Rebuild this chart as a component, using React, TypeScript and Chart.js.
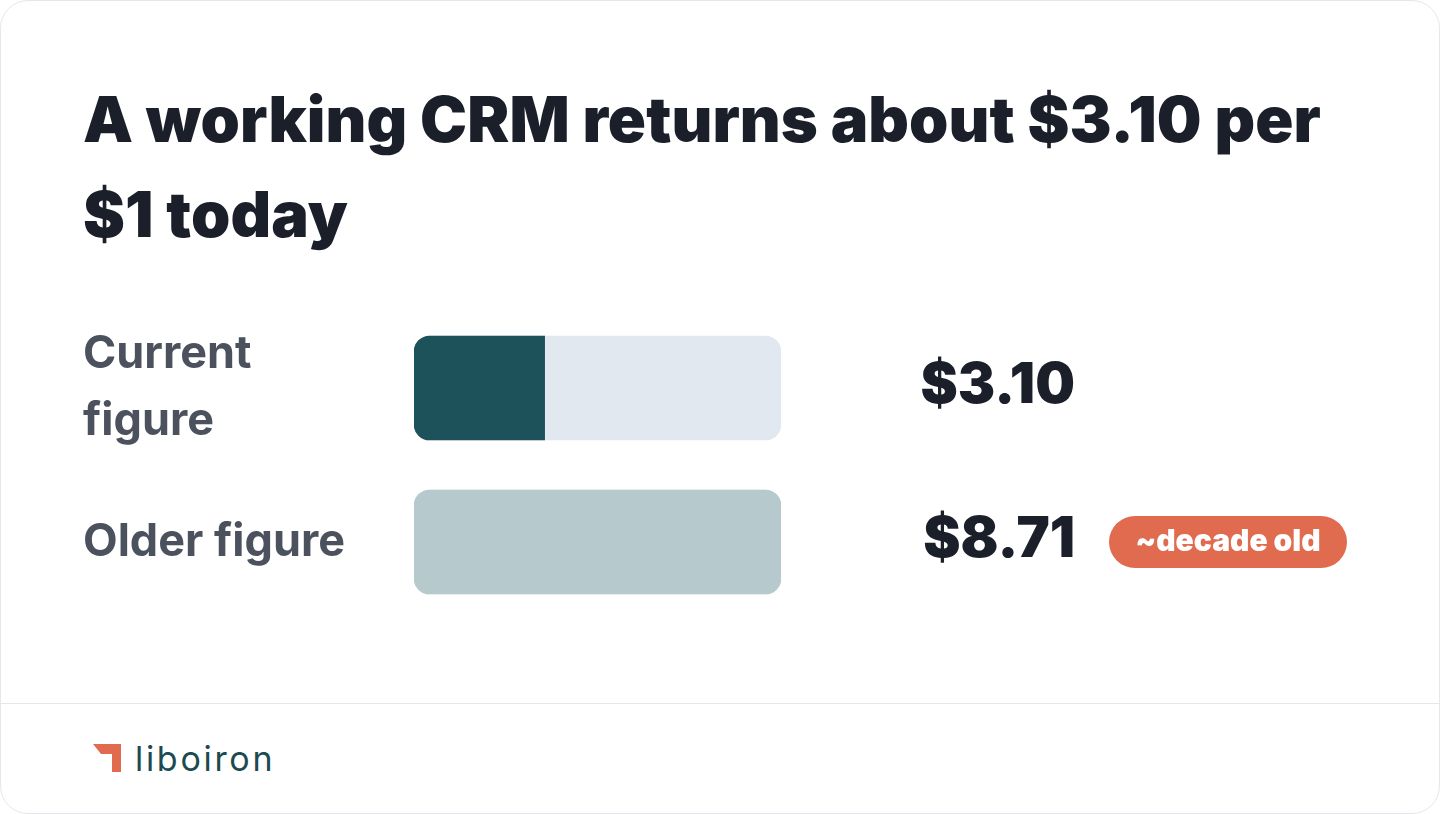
import React, { useEffect, useRef } from "react";
import { Chart, registerables } from "chart.js";

Chart.register(...registerables);

const TITLE_LINES = ["A working CRM returns about $3.10 per", "$1 today"];
const CATEGORIES: (string | string[])[] = [["Current", "figure"], "Older figure"];
const VALUES = [3.1, 8.71];
const NOTES = ["", "~decade old"];
const SCALE_MAX = 8.71;
const BRAND = "liboiron";

const COLORS = {
  ink: "#1b1f2a",
  label: "#4c515e",
  track: "#e2e8f0",
  current: "#1e525b",
  older: "#b6c9cc",
  badge: "#e06b4f",
  border: "#e4e7ec",
  brand: "#1d4a4f",
};

const FONT = "Inter, 'Noto Sans', sans-serif";

const valuePlugin = {
  id: "valueLabels",
  afterDatasetsDraw(chart: any) {
    const { ctx, chartArea, scales } = chart;
    const y = scales.y;
    ctx.save();
    VALUES.forEach((v, i) => {
      const cy = y.getPixelForValue(i);
      ctx.font = `900 56px ${FONT}`;
      ctx.fillStyle = COLORS.ink;
      ctx.textAlign = "right";
      ctx.textBaseline = "middle";
      ctx.fillText("$" + v.toFixed(2), chartArea.right + 294, cy - 2);
      const note = NOTES[i];
      if (note) {
        const bx = chartArea.right + 328;
        const bw = 238;
        const bh = 52;
        const by = cy - bh / 2;
        ctx.beginPath();
        ctx.roundRect(bx, by, bw, bh, bh / 2);
        ctx.fillStyle = COLORS.badge;
        ctx.fill();
        ctx.font = `900 30px ${FONT}`;
        ctx.fillStyle = "#ffffff";
        ctx.textAlign = "center";
        ctx.fillText(note, bx + bw / 2, cy);
      }
    });
    ctx.restore();
  },
};

function BarChart() {
  const ref = useRef<HTMLCanvasElement>(null);
  useEffect(() => {
    if (!ref.current) return;
    const chart = new Chart(ref.current, {
      type: "bar",
      data: {
        labels: CATEGORIES,
        datasets: [
          {
            label: "track",
            data: VALUES.map(() => SCALE_MAX),
            backgroundColor: COLORS.track,
            borderRadius: 16,
            borderSkipped: false,
            grouped: false,
            barThickness: 104,
            order: 2,
          },
          {
            label: "value",
            data: VALUES,
            backgroundColor: VALUES.map((_, i) => (i === 0 ? COLORS.current : COLORS.older)),
            borderRadius: (c: any) =>
              VALUES[c.dataIndex] >= SCALE_MAX
                ? 16
                : { topLeft: 16, bottomLeft: 16, topRight: 0, bottomRight: 0 },
            borderSkipped: false,
            grouped: false,
            barThickness: 104,
            order: 1,
          },
        ],
      },
      options: {
        indexAxis: "y",
        animation: false,
        responsive: true,
        maintainAspectRatio: false,
        layout: { padding: { left: 0, right: 580, top: 0, bottom: 0 } },
        plugins: { legend: { display: false }, tooltip: { enabled: false } },
        scales: {
          x: { display: false, min: 0, max: SCALE_MAX },
          y: {
            grid: { display: false },
            border: { display: false },
            afterFit: (s: any) => {
              s.width = 331;
              s.paddingTop = 0;
              s.paddingBottom = 0;
            },
            ticks: {
              crossAlign: "far",
              color: COLORS.label,
              font: { family: FONT, size: 45, weight: "700", lineHeight: "67px" },
            },
          },
        },
      },
      plugins: [valuePlugin],
    } as any);
    return () => chart.destroy();
  }, []);
  return (
    <div style={{ position: "absolute", left: 82, top: 310, width: 1278, height: 308 }}>
      <canvas ref={ref} />
    </div>
  );
}

export default function App() {
  return (
    <div
      style={{
        position: "fixed",
        inset: 0,
        background: "#ffffff",
        fontFamily: FONT,
      }}
    >
      <style>{`body{margin:0;background:#fff}`}</style>
      <div
        style={{
          position: "absolute",
          inset: 0,
          border: `1.5px solid ${COLORS.border}`,
          borderRadius: 28,
          boxSizing: "border-box",
          overflow: "hidden",
        }}
      >
        <h1
          style={{
            position: "absolute",
            left: 82,
            top: 71,
            margin: 0,
            fontSize: 63,
            lineHeight: "95px",
            fontWeight: 900,
            color: COLORS.ink,
            letterSpacing: "0.1px",
            whiteSpace: "nowrap",
          }}
        >
          {TITLE_LINES[0]}
          <br />
          {TITLE_LINES[1]}
        </h1>
        <BarChart />
        <div
          style={{
            position: "absolute",
            left: 0,
            right: 0,
            top: 702,
            height: 0,
            borderTop: `1.5px solid ${COLORS.border}`,
          }}
        />
        <svg
          style={{ position: "absolute", left: 90, top: 741 }}
          width={34}
          height={32}
          viewBox="0 0 34 32"
        >
          <polygon points="2,2 30,2 30,30 21,30 21,12 10,12" fill={COLORS.badge} />
        </svg>
        <div
          style={{
            position: "absolute",
            left: 134,
            top: 741,
            fontSize: 34,
            lineHeight: "33px",
            fontWeight: 400,
            color: COLORS.brand,
            letterSpacing: "2.7px",
          }}
        >
          {BRAND}
        </div>
      </div>
    </div>
  );
}
